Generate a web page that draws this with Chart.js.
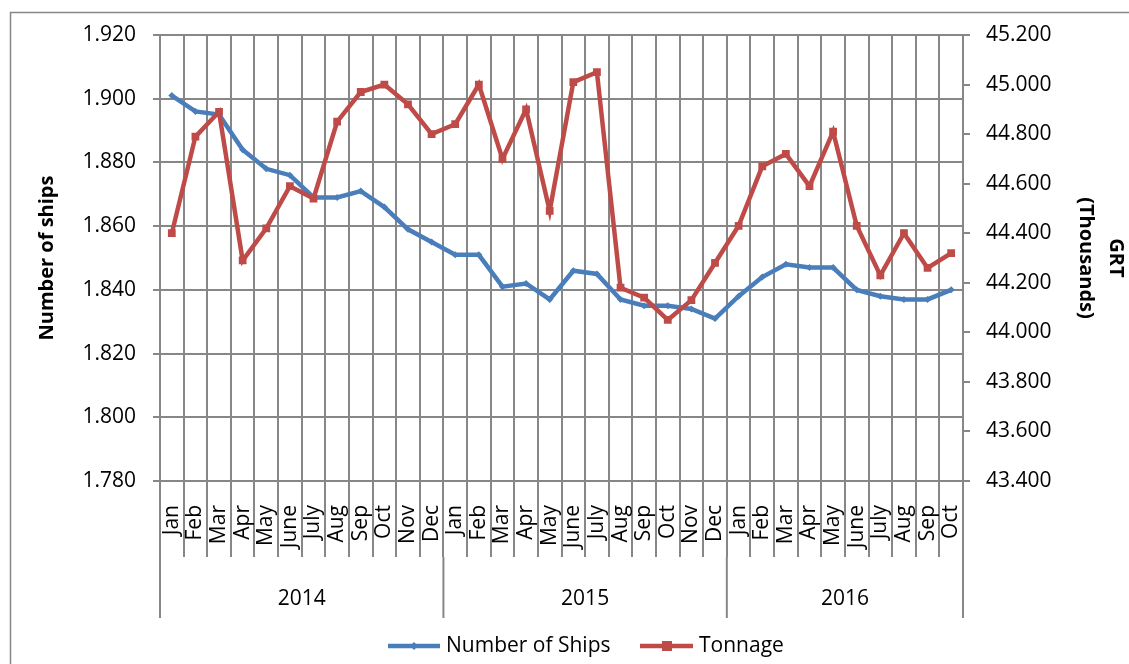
<!DOCTYPE html>
<html>
<head>
  <title>Ships and Tonnage</title>
  <script src="https://cdn.jsdelivr.net/npm/chart.js"></script>
  <style>
    body { margin: 0; background: #fff; }
  </style>
</head>
<body>
  <canvas id="ships-chart" width="1129" height="664"></canvas>

  <script>
    // data
    const months = ['Jan', 'Feb', 'Mar', 'Apr', 'May', 'June', 'July', 'Aug', 'Sep', 'Oct', 'Nov', 'Dec',
      'Jan', 'Feb', 'Mar', 'Apr', 'May', 'June', 'July', 'Aug', 'Sep', 'Oct', 'Nov', 'Dec',
      'Jan', 'Feb', 'Mar', 'Apr', 'May', 'June', 'July', 'Aug', 'Sep', 'Oct'];
    const years = ['2014', '2015', '2016'];
    const yearStart = [0, 12, 24, 34];

    const ships = [1.901, 1.896, 1.895, 1.884, 1.878, 1.876, 1.869, 1.869, 1.871, 1.866, 1.859, 1.855,
      1.851, 1.851, 1.841, 1.842, 1.837, 1.846, 1.845, 1.837, 1.835, 1.835, 1.834, 1.831,
      1.838, 1.844, 1.848, 1.847, 1.847, 1.840, 1.838, 1.837, 1.837, 1.840];
    const tonnage = [44.40, 44.79, 44.89, 44.29, 44.42, 44.59, 44.54, 44.85, 44.97, 45.00, 44.92, 44.80,
      44.84, 45.00, 44.70, 44.90, 44.49, 45.01, 45.05, 44.18, 44.14, 44.05, 44.13, 44.28,
      44.43, 44.67, 44.72, 44.59, 44.81, 44.43, 44.23, 44.40, 44.26, 44.32];

    const FONT = '"Open Sans", sans-serif';
    const GRID = '#878787';
    const BLUE = '#4a7ebb';
    const RED = '#be4b48';

    // 축 아래 영역, 제목, 범례 그리기
    const extras = {
      id: 'extras',
      beforeDraw(chart) {
        const c = chart.ctx;
        c.save();
        c.fillStyle = '#fff';
        c.fillRect(0, 0, chart.width, chart.height);
        c.restore();
      },
      afterDraw(chart) {
        const c = chart.ctx;
        const x = chart.scales.x;
        const area = chart.chartArea;
        c.save();

        // outer frame
        c.strokeStyle = GRID;
        c.lineWidth = 1.5;
        c.strokeRect(10.5, 12.5, 1200, 700);

        // month labels
        c.fillStyle = '#000';
        c.font = '21px ' + FONT;
        c.textAlign = 'right';
        c.textBaseline = 'middle';
        months.forEach((m, i) => {
          c.save();
          c.translate(x.getPixelForValue(i), area.bottom + 24);
          c.rotate(-Math.PI / 2);
          c.fillText(m, 0, 0);
          c.restore();
        });

        // year separators and labels
        c.strokeStyle = GRID;
        c.lineWidth = 2;
        yearStart.forEach(i => {
          const px = x.getPixelForValue(i - 0.5);
          c.beginPath();
          c.moveTo(px, area.bottom + 76);
          c.lineTo(px, area.bottom + 137);
          c.stroke();
        });
        c.font = '21px ' + FONT;
        c.textAlign = 'center';
        years.forEach((y, k) => {
          const mid = (x.getPixelForValue(yearStart[k] - 0.5) + x.getPixelForValue(yearStart[k + 1] - 0.5)) / 2;
          c.fillText(y, mid, area.bottom + 118);
        });

        // axis titles
        const midY = (area.top + area.bottom) / 2;
        c.font = 'bold 20px ' + FONT;
        c.save();
        c.translate(47, midY);
        c.rotate(-Math.PI / 2);
        c.fillText('Number of ships', 0, 0);
        c.restore();
        c.save();
        c.translate(1101, midY);
        c.rotate(Math.PI / 2);
        c.fillText('GRT', 0, -15);
        c.fillText('(Thousands)', 0, 15);
        c.restore();

        // legend
        const ly = 646;
        c.lineWidth = 4.5;
        c.strokeStyle = BLUE;
        c.beginPath();
        c.moveTo(388, ly);
        c.lineTo(440, ly);
        c.stroke();
        c.fillStyle = BLUE;
        c.beginPath();
        c.moveTo(414, ly - 4);
        c.lineTo(418, ly);
        c.lineTo(414, ly + 4);
        c.lineTo(410, ly);
        c.closePath();
        c.fill();
        c.strokeStyle = RED;
        c.beginPath();
        c.moveTo(640, ly);
        c.lineTo(693, ly);
        c.stroke();
        c.fillStyle = RED;
        c.fillRect(662, ly - 5, 10, 10);
        c.fillStyle = '#000';
        c.font = '21px ' + FONT;
        c.textAlign = 'left';
        c.fillText('Number of Ships', 446, ly);
        c.fillText('Tonnage', 699, ly);

        c.restore();
      }
    };

    const ctx = document.getElementById('ships-chart').getContext('2d');

    const shipsChart = new Chart(ctx, {
      type: 'line',
      data: {
        labels: months,
        datasets: [{
          label: 'Number of Ships',
          data: ships,
          yAxisID: 'y',
          borderColor: BLUE,
          backgroundColor: BLUE,
          borderWidth: 4.5,
          pointStyle: 'rectRot',
          pointRadius: 3.5,
          pointBorderWidth: 0,
          order: 2
        }, {
          label: 'Tonnage',
          data: tonnage,
          yAxisID: 'y1',
          borderColor: RED,
          backgroundColor: RED,
          borderWidth: 4.5,
          pointStyle: 'rect',
          pointRadius: 5.5,
          pointBorderWidth: 0,
          order: 1
        }]
      },
      options: {
        responsive: false,
        animation: false,
        layout: { padding: { top: 35, left: 0, right: 0, bottom: 0 } },
        plugins: {
          legend: { display: false },
          tooltip: { enabled: false }
        },
        scales: {
          x: {
            type: 'category',
            offset: true,
            grid: { offset: true, color: GRID, lineWidth: 2, tickLength: 76 },
            border: { color: GRID, width: 2 },
            ticks: { display: false, autoSkip: false },
            afterFit: s => { s.height = 183; }
          },
          y: {
            position: 'left',
            min: 1.78,
            max: 1.92,
            grid: { color: GRID, lineWidth: 2, tickLength: 7 },
            border: { color: GRID, width: 2 },
            ticks: {
              stepSize: 0.02,
              padding: 17,
              color: '#000',
              font: { family: FONT, size: 21 },
              callback: v => v.toFixed(3)
            },
            afterFit: s => { s.width = 160; }
          },
          y1: {
            position: 'right',
            min: 43.4,
            max: 45.2,
            grid: { drawOnChartArea: false, color: GRID, lineWidth: 2, tickLength: 7 },
            border: { color: GRID, width: 2 },
            ticks: {
              stepSize: 0.2,
              padding: 16,
              color: '#000',
              font: { family: FONT, size: 21 },
              callback: v => v.toFixed(3)
            },
            afterFit: s => { s.width = 166; }
          }
        }
      },
      plugins: [extras]
    });
  </script>
</body>
</html>
